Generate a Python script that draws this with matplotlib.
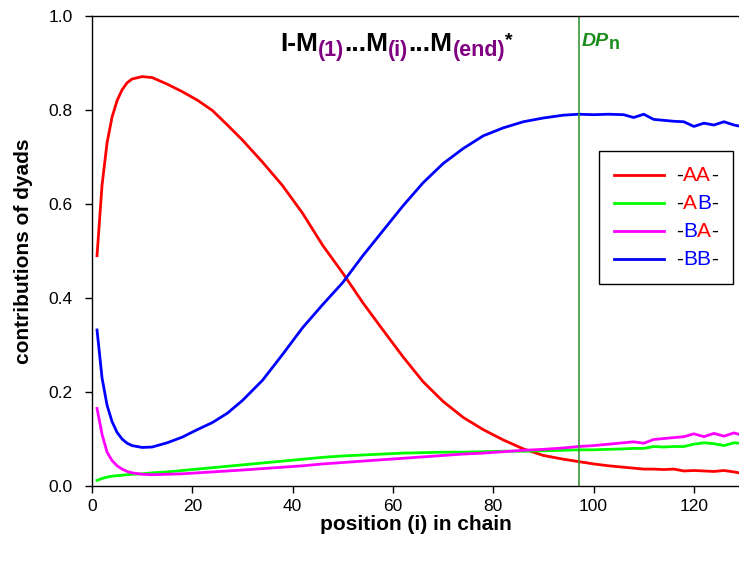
import matplotlib
matplotlib.use('Agg')
import matplotlib.pyplot as plt
from matplotlib.lines import Line2D
from matplotlib.offsetbox import AnchoredOffsetbox, DrawingArea, HPacker, VPacker, TextArea

plt.rcParams['font.family'] = ['Liberation Sans', 'DejaVu Sans']

# position (i) in chain
position = [1, 2, 3, 4, 5, 6, 7, 8, 10, 12, 15, 18, 21, 24, 27, 30, 34, 38, 42, 46,
            50, 54, 58, 62, 66, 70, 74, 78, 82, 86, 90, 94, 97, 100, 103, 106, 108, 110,
            112, 114, 116, 118, 120, 122, 124, 126, 128, 129]

aa = [0.49, 0.64, 0.73, 0.785, 0.82, 0.843, 0.858, 0.866, 0.871, 0.869, 0.855, 0.839,
      0.821, 0.799, 0.768, 0.736, 0.689, 0.639, 0.58, 0.512, 0.453, 0.39, 0.332, 0.275,
      0.222, 0.18, 0.146, 0.12, 0.098, 0.079, 0.065, 0.057, 0.052, 0.047, 0.043, 0.04,
      0.038, 0.036, 0.036, 0.035, 0.036, 0.032, 0.033, 0.032, 0.031, 0.033, 0.030, 0.028]

ab = [0.012, 0.016, 0.019, 0.021, 0.022, 0.023, 0.024, 0.025, 0.026, 0.028, 0.03, 0.033,
      0.036, 0.039, 0.042, 0.045, 0.049, 0.053, 0.057, 0.061, 0.064, 0.066, 0.068, 0.07,
      0.071, 0.072, 0.072, 0.073, 0.074, 0.074, 0.075, 0.076, 0.077, 0.077, 0.078, 0.079,
      0.08, 0.08, 0.084, 0.083, 0.084, 0.084, 0.089, 0.092, 0.09, 0.086, 0.092, 0.091]

ba = [0.165, 0.11, 0.072, 0.054, 0.043, 0.036, 0.031, 0.028, 0.025, 0.024, 0.025, 0.026,
      0.028, 0.03, 0.032, 0.034, 0.037, 0.04, 0.043, 0.047, 0.05, 0.053, 0.056, 0.059,
      0.062, 0.065, 0.068, 0.07, 0.073, 0.076, 0.078, 0.081, 0.084, 0.086, 0.089, 0.092,
      0.094, 0.091, 0.099, 0.101, 0.103, 0.105, 0.111, 0.105, 0.112, 0.106, 0.113, 0.11]

bb = [0.332, 0.23, 0.172, 0.137, 0.114, 0.1, 0.091, 0.086, 0.082, 0.083, 0.092, 0.104,
      0.12, 0.135, 0.155, 0.182, 0.225, 0.28, 0.337, 0.386, 0.433, 0.49, 0.543, 0.596,
      0.645, 0.686, 0.718, 0.745, 0.762, 0.775, 0.783, 0.789, 0.791, 0.79, 0.791, 0.79,
      0.784, 0.791, 0.78, 0.778, 0.776, 0.775, 0.765, 0.772, 0.768, 0.775, 0.768, 0.766]

dp_n = 97

RED = '#ff0000'
BLUE = '#0000ff'
PURPLE = '#800080'
DPGREEN = '#1a8c1a'

fig = plt.figure(figsize=(7.39, 5.65), dpi=100)
ax = fig.add_axes([0.1245, 0.1398, 0.8755, 0.8319])

l_aa, = ax.plot(position, aa, color=RED, lw=2)
l_ab, = ax.plot(position, ab, color='#00ff00', lw=2)
l_ba, = ax.plot(position, ba, color='#ff00ff', lw=2)
l_bb, = ax.plot(position, bb, color=BLUE, lw=2)
ax.axvline(dp_n, color='#3a963a', lw=1.2)

ax.set_xlim(0, 129)
ax.set_ylim(0, 1.0)
ax.set_xticks(range(0, 121, 20))
ax.set_yticks([0.0, 0.2, 0.4, 0.6, 0.8, 1.0])
ax.set_yticklabels(['0.0', '0.2', '0.4', '0.6', '0.8', '1.0'])
ax.tick_params(direction='out', length=5, width=1, labelsize=12.5)
ax.tick_params(axis='x', pad=4)
ax.tick_params(axis='y', pad=9)
ax.spines['right'].set_visible(False)
for s in ['left', 'bottom', 'top']:
    ax.spines[s].set_linewidth(1)

ax.set_xlabel('position (i) in chain', fontsize=15, fontweight='bold', labelpad=1)
ax.set_ylabel('contributions of dyads', fontsize=15, fontweight='bold', labelpad=11)

# title-like label inside the plot, purple subscripts
pieces = [('I-M', 'black', 19, 0), ('(1)', PURPLE, 15.5, -3.5),
          ('...M', 'black', 19, 3.5), ('(i)', PURPLE, 15.5, -3.5),
          ('...M', 'black', 19, 3.5), ('(end)', PURPLE, 15.5, -3.5),
          ('*', 'black', 14, 8.5)]
prev = None
for txt, col, size, dy in pieces:
    if prev is None:
        prev = ax.text(37.5, 0.914, txt, color=col, fontsize=size, fontweight='bold',
                       va='bottom', ha='left')
    else:
        prev = ax.annotate(txt, xy=(1, 0), xycoords=prev, xytext=(0, dy),
                           textcoords='offset points', color=col, fontsize=size,
                           fontweight='bold', va='bottom', ha='left')

dp = ax.text(97.6, 0.928, 'DP', color=DPGREEN, fontsize=14, fontweight='bold',
             fontstyle='italic', va='bottom', ha='left')
ax.annotate('n', xy=(1, 0), xycoords=dp, xytext=(0, -2), textcoords='offset points',
            color=DPGREEN, fontsize=13, fontweight='bold', va='bottom', ha='left')

# legend with two-coloured labels
label_parts = [
    [('-', 'black'), ('AA', RED), ('-', 'black')],
    [('-', 'black'), ('A', RED), ('B', BLUE), ('-', 'black')],
    [('-', 'black'), ('B', BLUE), ('A', RED), ('-', 'black')],
    [('-', 'black'), ('BB', BLUE), ('-', 'black')],
]
rows = []
for line, parts in zip([l_aa, l_ab, l_ba, l_bb], label_parts):
    da = DrawingArea(36, 11)
    da.add_artist(Line2D([0, 36], [5.5, 5.5], color=line.get_color(), lw=2))
    txt = HPacker(children=[TextArea(s, textprops=dict(color=c, fontsize=15)) for s, c in parts],
                  pad=0, sep=0, align='baseline')
    rows.append(HPacker(children=[da, txt], pad=0, sep=8.5, align='center'))
box = VPacker(children=rows, pad=0, sep=6.5, align='left')
leg = AnchoredOffsetbox(loc='upper left', child=box, pad=0.72, borderpad=0, frameon=True,
                        bbox_to_anchor=(0.784, 0.713), bbox_transform=ax.transAxes,
                        prop=dict(size=15))
leg.patch.set_boxstyle('square', pad=0)
leg.patch.set_edgecolor('black')
leg.patch.set_linewidth(1)
leg.zorder = 5
ax.add_artist(leg)

fig.savefig('out.png', dpi=100)
